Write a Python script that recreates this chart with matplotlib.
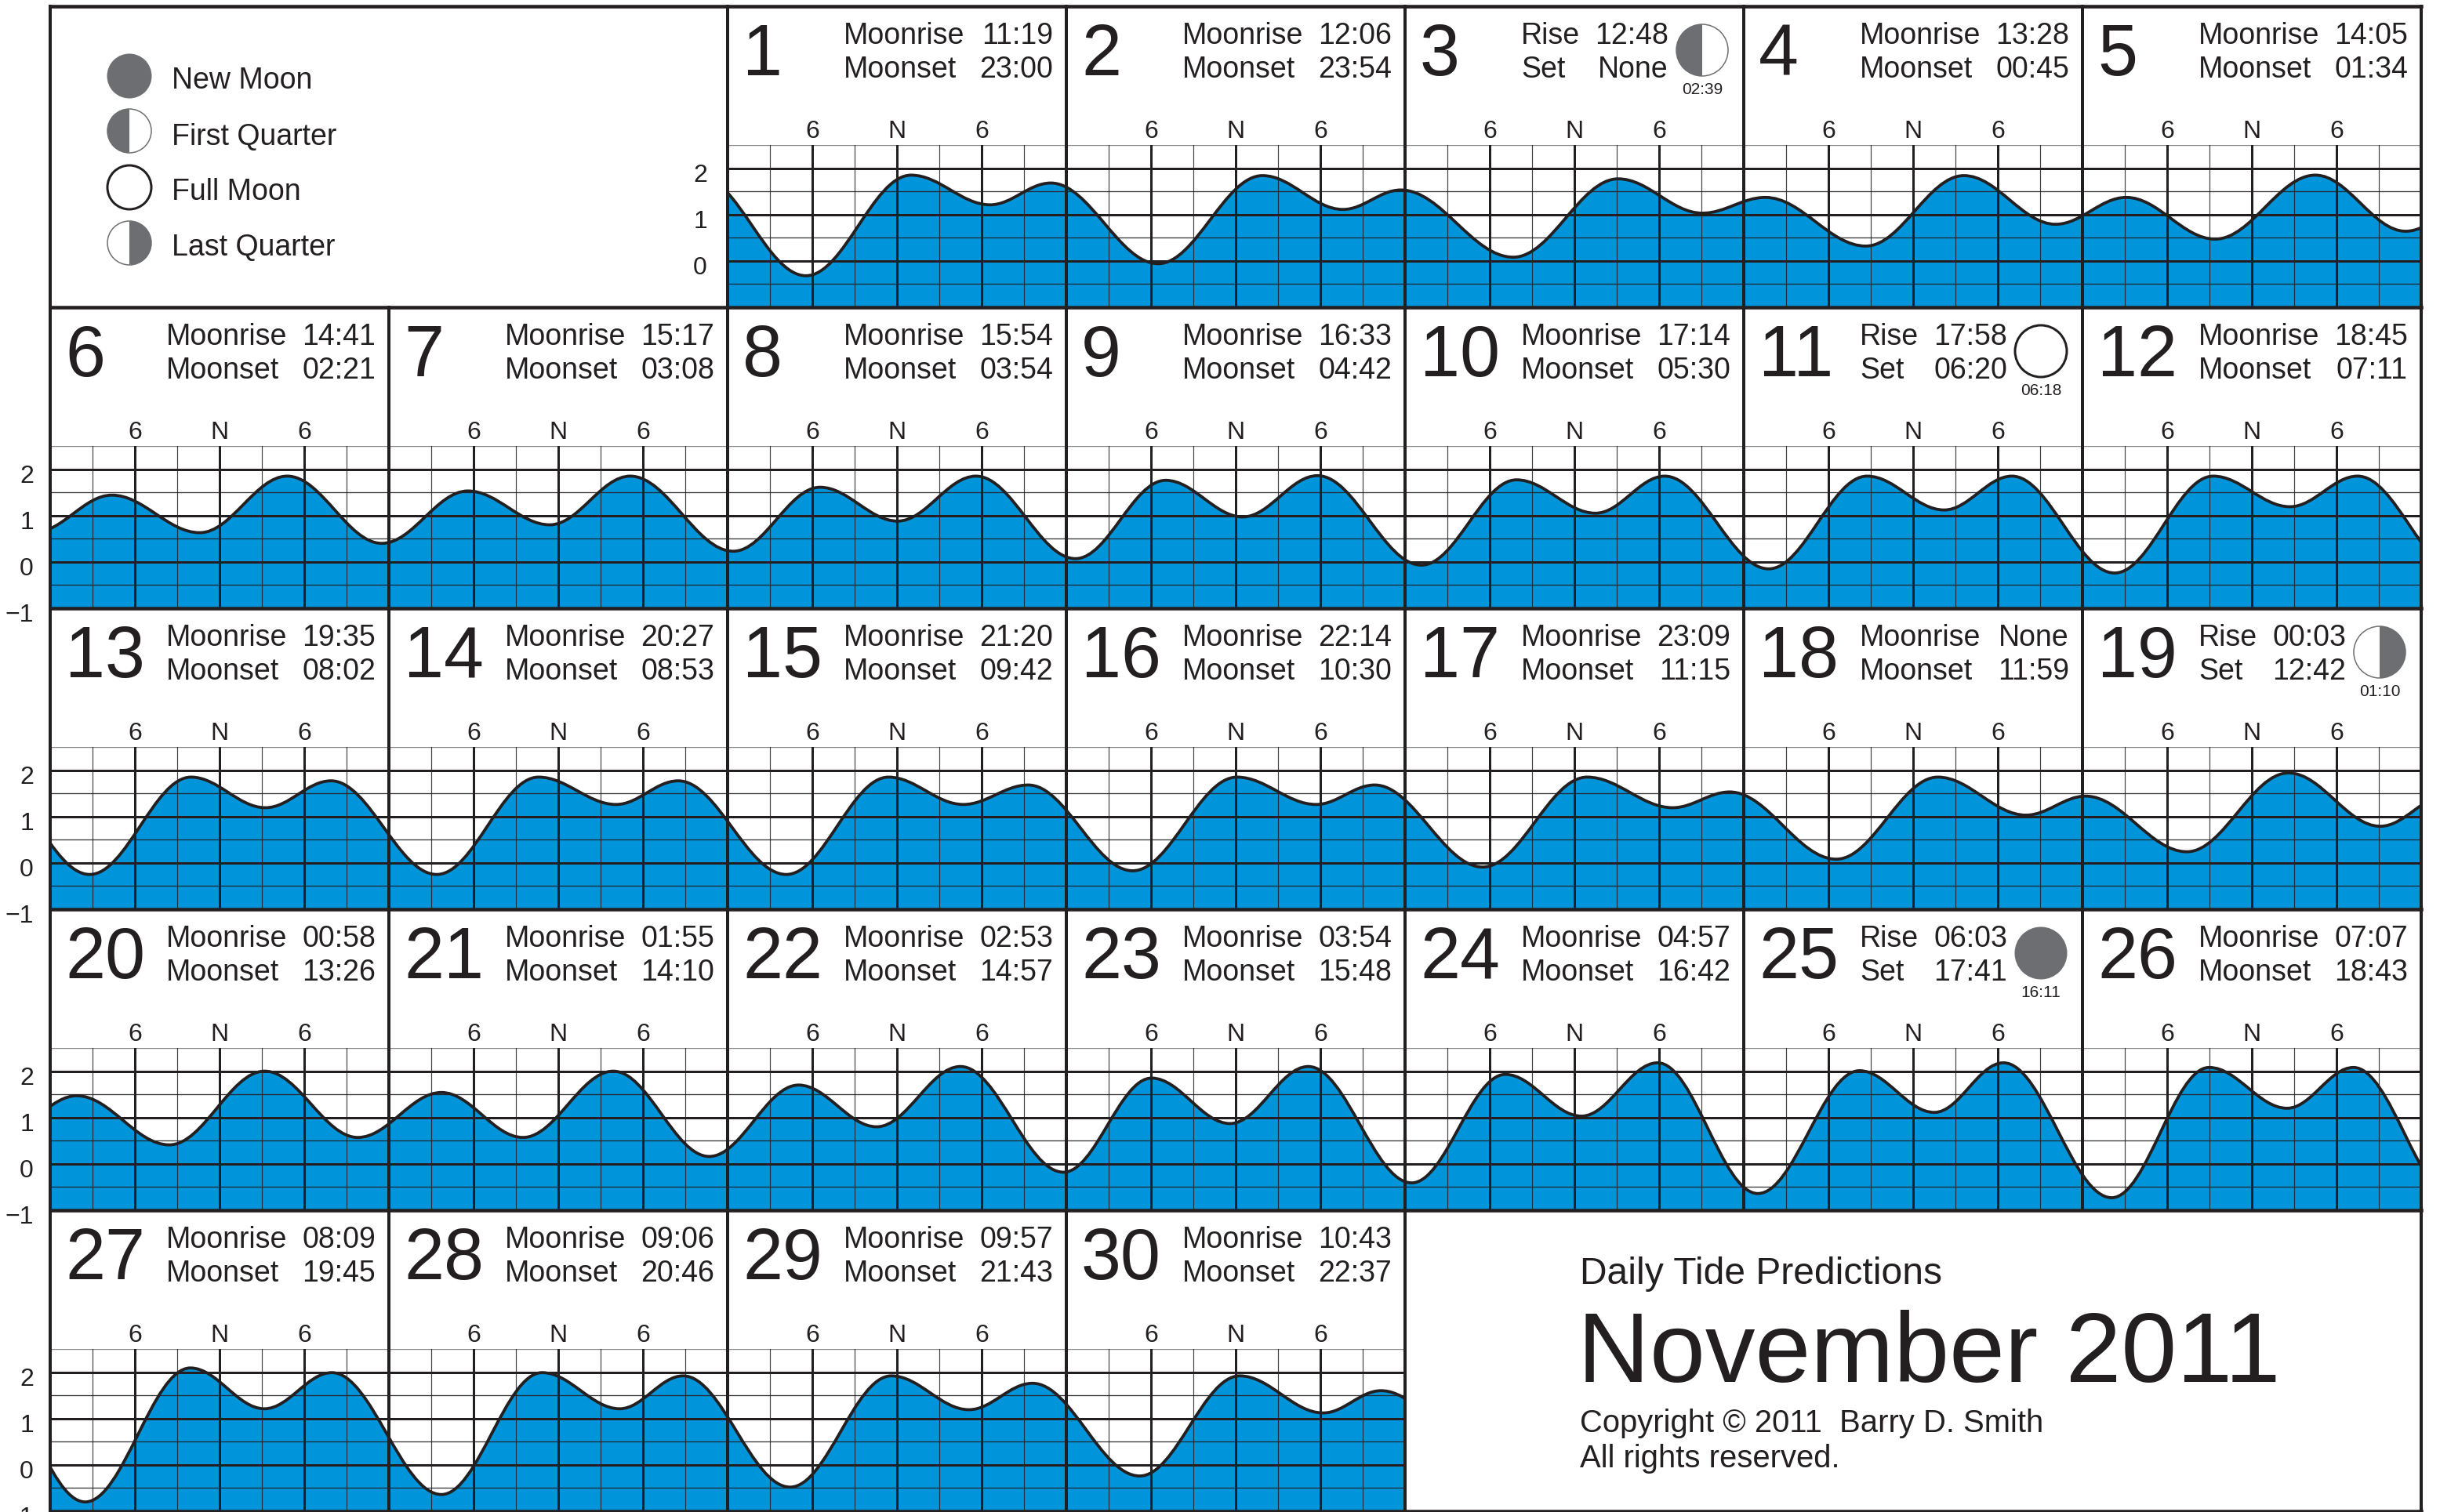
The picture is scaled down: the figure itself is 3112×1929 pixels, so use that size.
import matplotlib
matplotlib.use("Agg")
import matplotlib.pyplot as plt
from matplotlib.patches import Circle, PathPatch, Wedge
from matplotlib.path import Path

plt.rcParams["font.family"] = ["Liberation Sans", "DejaVu Sans"]

INK = "#231f20"
SEA = "#0095da"
MOON = "#6d6e71"

# turning points of the tide: day of month, hour, height
turn_day = [
    0,
    1, 1, 1, 1,
    2, 2, 2, 2,
    3, 3, 3,
    4, 4, 4, 4,
    5, 5, 5, 5,
    6, 6, 6, 6,
    7, 7, 7,
    8, 8, 8, 8,
    9, 9, 9, 9,
    10, 10, 10, 10,
    11, 11, 11, 11,
    12, 12, 12, 12,
    13, 13, 13, 13,
    14, 14, 14, 14,
    15, 15, 15, 15,
    16, 16, 16, 16,
    17, 17, 17, 17,
    18, 18, 18,
    19, 19, 19, 19,
    20, 20, 20, 20,
    21, 21, 21, 21,
    22, 22, 22, 22,
    23, 23, 23,
    24, 24, 24, 24,
    25, 25, 25, 25,
    26, 26, 26, 26,
    27, 27, 27, 27,
    28, 28, 28, 28,
    29, 29, 29, 29,
    30, 30, 30, 30,
    31,
]
turn_hour = [
    21.9,
    5.55, 13.0, 18.6, 22.9,
    6.5, 13.9, 19.6, 23.7,
    7.67, 15.1, 21.07,
    1.53, 8.65, 15.6, 22.1,
    3.1, 9.4, 16.5, 22.9,
    4.37, 10.6, 16.8, 23.5,
    5.6, 11.4, 17.1,
    0.4, 6.55, 12.05, 17.6,
    0.65, 7.04, 12.5, 17.8,
    1.16, 7.9, 13.5, 18.4,
    1.77, 8.74, 14.2, 19.0,
    2.28, 9.26, 14.7, 19.5,
    2.8, 9.98, 15.25, 19.9,
    3.39, 10.6, 16.1, 20.5,
    4.16, 11.4, 16.7, 21.3,
    4.7, 12.09, 17.7, 21.85,
    5.5, 12.9, 18.97, 23.0,
    6.56, 13.75, 20.0,
    0.22, 7.4, 14.6, 21.1,
    1.88, 8.44, 15.2, 21.8,
    3.72, 9.5, 15.9, 22.7,
    5.03, 10.56, 16.5, 23.8,
    6.04, 11.6, 17.15,
    0.47, 7.1, 12.5, 17.9,
    1.0, 8.2, 13.5, 18.4,
    2.07, 8.97, 14.5, 19.2,
    2.48, 9.93, 15.18, 19.96,
    3.72, 10.85, 16.35, 20.85,
    4.43, 11.6, 17.1, 21.6,
    5.2, 12.28, 18.2, 22.3,
    6.5,
]
turn_level = [
    1.85,
    -0.32, 1.85, 1.21, 1.68,
    -0.06, 1.84, 1.11, 1.53,
    0.08, 1.77, 1.03,
    1.37, 0.32, 1.84, 0.79,
    1.37, 0.47, 1.85, 0.64,
    1.44, 0.63, 1.85, 0.40,
    1.53, 0.80, 1.85,
    0.23, 1.61, 0.88, 1.85,
    0.07, 1.76, 0.97, 1.86,
    -0.07, 1.77, 1.05, 1.85,
    -0.15, 1.85, 1.12, 1.85,
    -0.24, 1.85, 1.19, 1.85,
    -0.25, 1.85, 1.19, 1.77,
    -0.25, 1.85, 1.26, 1.77,
    -0.25, 1.85, 1.26, 1.68,
    -0.17, 1.85, 1.26, 1.68,
    -0.09, 1.85, 1.19, 1.53,
    0.08, 1.85, 1.03,
    1.44, 0.24, 1.94, 0.79,
    1.47, 0.41, 2.0, 0.57,
    1.54, 0.57, 2.0, 0.16,
    1.70, 0.80, 2.1, -0.18,
    1.85, 0.87, 2.1,
    -0.41, 1.93, 1.03, 2.18,
    -0.64, 2.01, 1.11, 2.18,
    -0.73, 2.08, 1.2, 2.08,
    -0.8, 2.09, 1.21, 1.99,
    -0.64, 1.99, 1.21, 1.92,
    -0.48, 1.92, 1.19, 1.76,
    -0.24, 1.92, 1.12, 1.6,
    -0.05,
]

moonrise = ["11:19", "12:06", "12:48", "13:28", "14:05", "14:41", "15:17", "15:54", "16:33", "17:14",
            "17:58", "18:45", "19:35", "20:27", "21:20", "22:14", "23:09", "None", "00:03", "00:58",
            "01:55", "02:53", "03:54", "04:57", "06:03", "07:07", "08:09", "09:06", "09:57", "10:43"]
moonset = ["23:00", "23:54", "None", "00:45", "01:34", "02:21", "03:08", "03:54", "04:42", "05:30",
           "06:20", "07:11", "08:02", "08:53", "09:42", "10:30", "11:15", "11:59", "12:42", "13:26",
           "14:10", "14:57", "15:48", "16:42", "17:41", "18:43", "19:45", "20:46", "21:43", "22:37"]

phase_days = [3, 11, 19, 25]
phase_names = ["First Quarter", "Full Moon", "Last Quarter", "New Moon"]
phase_times = ["02:39", "06:18", "01:10", "16:11"]
legend_names = ["New Moon", "First Quarter", "Full Moon", "Last Quarter"]

W, H = 3112, 1929
LEFT, TOP = 64, 8
CELL_W, CELL_H = 432, 384
GRID_TOP = 177


def px(v):
    # pixels to points at dpi 100
    return v * 0.72


fig = plt.figure(figsize=(W / 100, H / 100), dpi=100, facecolor="white")

# smooth curve through the turning points, flat at each one
times = [(d - 1) * 24 + h for d, h in zip(turn_day, turn_hour)]
verts = [(times[0], turn_level[0])]
codes = [Path.MOVETO]
for i in range(len(times) - 1):
    step = (times[i + 1] - times[i]) * 0.364
    verts += [(times[i] + step, turn_level[i]),
              (times[i + 1] - step, turn_level[i + 1]),
              (times[i + 1], turn_level[i + 1])]
    codes += [Path.CURVE4] * 3
line_path = Path(verts, codes)
fill_path = Path(verts + [(times[-1], -2), (times[0], -2), (times[0], -2)],
                 codes + [Path.LINETO, Path.LINETO, Path.CLOSEPOLY])

for day in range(1, 31):
    row, col = (day + 1) // 7, (day + 1) % 7
    x0 = LEFT + col * CELL_W
    y1 = TOP + (row + 1) * CELL_H
    ax = fig.add_axes([x0 / W, (H - y1) / H, CELL_W / W, (CELL_H - GRID_TOP) / H])
    ax.set_xlim((day - 1) * 24, day * 24)
    ax.set_ylim(-1, 2.5)
    ax.axis("off")
    ax.add_patch(PathPatch(fill_path, facecolor=SEA, edgecolor="none", zorder=1))
    start = (day - 1) * 24
    for y in [-0.5, 0.5, 1.5]:
        ax.axhline(y, color=INK, lw=px(1.3), alpha=0.9, zorder=2)
    ax.axhline(2.5, color="#8a8a8a", lw=px(2.4), zorder=2)
    for y in [0, 1, 2]:
        ax.axhline(y, color=INK, lw=px(3), zorder=2)
    for h in [3, 9, 15, 21]:
        ax.axvline(start + h, color=INK, lw=px(1.2), alpha=0.85, zorder=2)
    for h in [6, 12, 18]:
        ax.axvline(start + h, color=INK, lw=px(3), zorder=2)
    ax.add_patch(PathPatch(line_path, facecolor="none", edgecolor=INK, lw=px(3.8), zorder=3))

# everything else is laid out in picture pixels
page = fig.add_axes([0, 0, 1, 1], zorder=5)
page.set_xlim(0, W)
page.set_ylim(H, 0)
page.axis("off")
page.patch.set_visible(False)


def label(x, y, s, size=27, ha="left"):
    page.text(x, y, s, fontsize=size, ha=ha, va="baseline", color=INK, clip_on=True)


def draw_moon(cx, cy, r, name):
    if name == "New Moon":
        page.add_patch(Circle((cx, cy), r, facecolor=MOON, edgecolor=MOON, lw=px(1)))
    elif name == "Full Moon":
        page.add_patch(Circle((cx, cy), r, facecolor="white", edgecolor=INK, lw=px(3)))
    else:
        page.add_patch(Circle((cx, cy), r, facecolor="white", edgecolor=MOON, lw=px(1.5)))
        # y runs downwards on this axes, angles stay in data space
        a = 90 if name == "First Quarter" else -90
        page.add_patch(Wedge((cx, cy), r, a, a + 180, facecolor=MOON, edgecolor="none"))


for day in range(1, 31):
    row, col = (day + 1) // 7, (day + 1) % 7
    x0 = LEFT + col * CELL_W
    y0 = TOP + row * CELL_H
    label(x0 + 19, y0 + 88, str(day), size=66)
    if day in phase_days:
        i = phase_days.index(day)
        label(x0 + 148, y0 + 48, "Rise")
        label(x0 + 148, y0 + 91, "Set")
        label(x0 + 336, y0 + 48, moonrise[day - 1], ha="right")
        label(x0 + 336, y0 + 91, moonset[day - 1], ha="right")
        draw_moon(x0 + 379, y0 + 56, 33, phase_names[i])
        label(x0 + 379, y0 + 112, phase_times[i], size=15, ha="center")
    else:
        label(x0 + 148, y0 + 48, "Moonrise")
        label(x0 + 148, y0 + 91, "Moonset")
        label(x0 + 415, y0 + 48, moonrise[day - 1], ha="right")
        label(x0 + 415, y0 + 91, moonset[day - 1], ha="right")
    for h, s in zip([6, 12, 18], ["6", "N", "6"]):
        label(x0 + h * 18, y0 + 168, s, size=23, ha="center")

# height labels at the left of each row
for row in range(5):
    right = LEFT + 2 * CELL_W - 26 if row == 0 else 43
    for lev, s in zip([2, 1, 0, -1], ["2", "1", "0", "\u22121"]):
        if row == 0 and lev == -1:
            continue
        y = TOP + (row + 1) * CELL_H - (lev + 1) * (CELL_H - GRID_TOP) / 3.5
        label(right, y + 17, s, size=23, ha="right")

# legend
for name, cy, base in zip(legend_names, [97, 167, 239, 310], [113, 185, 255, 326]):
    draw_moon(165, cy, 28, name)
    label(219, base, name)

# title block
label(2015, 1638, "Daily Tide Predictions", size=34.6)
label(2012, 1763, "November 2011", size=91.6)
label(2015, 1827, "Copyright \u00a9 2011  Barry D. Smith", size=28.8)
label(2015, 1872, "All rights reserved.", size=28.8)

# cell borders
for row in range(6):
    y = TOP + row * CELL_H
    page.plot([LEFT, LEFT + 7 * CELL_W], [y, y], color=INK, lw=px(4.5), solid_capstyle="projecting")
for row in range(5):
    for col in range(8):
        if row == 0 and col == 1:
            continue
        if row == 4 and col in (5, 6):
            continue
        x = LEFT + col * CELL_W
        page.plot([x, x], [TOP + row * CELL_H, TOP + (row + 1) * CELL_H], color=INK, lw=px(4), solid_capstyle="projecting")
page.set_xlim(0, W)
page.set_ylim(H, 0)

fig.savefig("out.png", dpi=100)
